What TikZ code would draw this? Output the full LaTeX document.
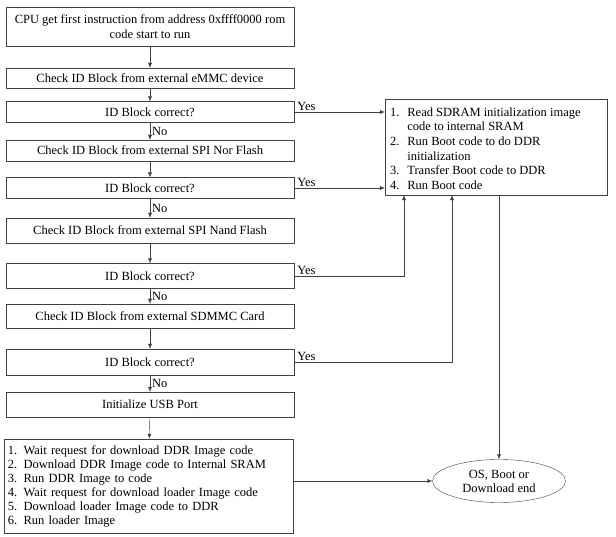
\documentclass[tikz,border=0pt]{standalone}
\usepackage{fontspec}
\setmainfont{Liberation Serif}
\usepackage{tikz}
\usetikzlibrary{arrows.meta,positioning,shapes.geometric}
\definecolor{flowline}{HTML}{404040}

\tikzset{
  stepbox/.style={draw=flowline,minimum width=288pt,inner sep=2pt,align=center,font=\fontsize{12.5}{14.5}\selectfont},
  listbox/.style={draw=flowline,inner sep=4pt,align=left,font=\fontsize{12.5}{14}\selectfont},
  listtext/.style={inner sep=2pt,anchor=north west,font=\fontsize{12.5}{14.6}\selectfont},
  endnode/.style={draw=flowline,ellipse,minimum width=133pt,minimum height=43pt,inner sep=0pt,align=center,font=\fontsize{12.5}{14}\selectfont},
  arr/.style={draw=flowline,-{Latex[length=5pt,width=4pt]}},
  yes/.style={anchor=south west,inner sep=1pt,xshift=2pt,font=\fontsize{12.5}{13}\selectfont},
  no/.style={anchor=west,inner sep=1pt,xshift=1pt,font=\fontsize{12.5}{13}\selectfont}
}

\begin{document}
\begin{tikzpicture}[x=1pt,y=-1pt]
  \useasboundingbox (0,0) rectangle (616,537);
  % left column
  \node[stepbox,minimum height=39pt] (start) at (150,26.5) {CPU get first instruction from address 0xffff0000 rom\\code start to run};
  \node[stepbox,minimum height=20pt] (emmc) at (150,78) {Check ID Block from external eMMC device};
  \node[stepbox,minimum height=21pt] (chk1) at (150,112) {ID Block correct?};
  \node[stepbox,minimum height=21pt] (nor) at (150,150.5) {Check ID Block from external SPI Nor Flash};
  \node[stepbox,minimum height=21pt] (chk2) at (150,188) {ID Block correct?};
  \node[stepbox,minimum height=25pt] (nand) at (150,230.5) {Check ID Block from external SPI Nand Flash};
  \node[stepbox,minimum height=25pt] (chk3) at (150,276) {ID Block correct?};
  \node[stepbox,minimum height=24pt] (sdmmc) at (150,316) {Check ID Block from external SDMMC Card};
  \node[stepbox,minimum height=26pt] (chk4) at (150,362) {ID Block correct?};
  \node[stepbox,minimum height=25pt] (usb) at (150,404.5) {Initialize USB Port};
  \node[listbox,text width=281pt,minimum height=94pt] (dl) at (148.5,486) {%
    1. Wait request for download DDR Image code\\
    2. Download DDR Image code to Internal SRAM\\
    3. Run DDR Image to code\\
    4. Wait request for download loader Image code\\
    5. Download loader Image code to DDR\\
    6. Run loader Image};
  % right column
  \node[listbox,minimum width=222pt,minimum height=96pt] (boot) at (496,147) {};
  \node[listtext,xshift=3pt,yshift=-5pt] (bootlist) at (boot.north west) {%
    \begin{tabular}{@{}l@{\hspace{8pt}}l@{}}
      1. & Read SDRAM initialization image\\
         & code to internal SRAM\\
      2. & Run Boot code to do DDR\\
         & initialization\\
      3. & Transfer Boot code to DDR\\
      4. & Run Boot code
    \end{tabular}};
  \node[endnode] (end) at (499,481) {OS, Boot or\\Download end};

  % main chain
  \draw[arr] (start) -- (emmc);
  \draw[arr] (emmc) -- (chk1);
  \draw[arr] (chk1) -- node[no] {No} (nor);
  \draw[arr] (nor) -- (chk2);
  \draw[arr] (chk2) -- node[no] {No} (nand);
  \draw[arr] (nand) -- (chk3);
  \draw[arr] (chk3) -- node[no] {No} (sdmmc);
  \draw[arr] (sdmmc) -- (chk4);
  \draw[arr] (chk4) -- node[no] {No} (usb);
  \draw[arr] (usb) -- (dl);

  % yes branches
  \draw[arr] (chk1.east) -- node[yes,pos=0] {Yes} (chk1.east -| boot.west);
  \draw[arr] (chk2.east) -- node[yes,pos=0] {Yes} (chk2.east -| boot.west);
  \draw[arr] (chk3.east) -| node[yes,pos=0] {Yes} ([xshift=-92pt]boot.south);
  \draw[arr] (chk4.east) -| node[yes,pos=0] {Yes} ([xshift=-44pt]boot.south);

  % to the end
  \draw[arr] (boot.south -| end.north) -- (end.north);
  \draw[arr] (dl.east |- end) -- (end.west);
\end{tikzpicture}
\end{document}
